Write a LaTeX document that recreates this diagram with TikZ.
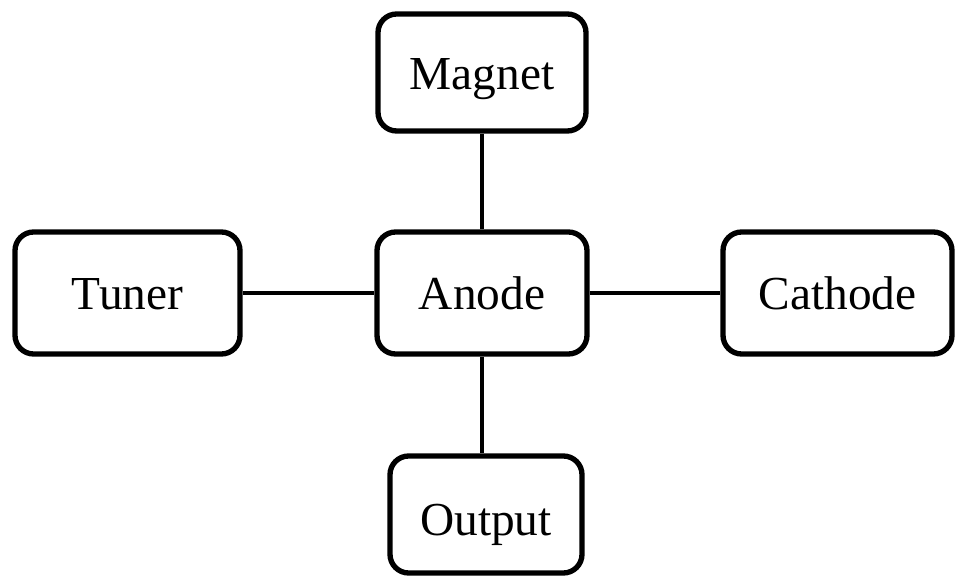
\documentclass[tikz,border=0pt]{standalone}
\usepackage{fontspec}
\setmainfont{Liberation Serif}
\begin{document}
\begin{tikzpicture}[x=0.75pt,y=-0.75pt,
  block/.style={draw=black, line width=4pt, rounded corners=14pt, fill=white,
    inner sep=0pt, font=\fontsize{35.5}{40}\selectfont,
    text height=25.5pt, text depth=0pt},
  link/.style={draw=black, line width=3.6pt}]
  \useasboundingbox (0,0) rectangle (958,577);

  % boxes
  \node[block, minimum width=156pt,   minimum height=87.75pt] (magnet)  at (482,72.5)  {Magnet};
  \node[block, minimum width=157.5pt, minimum height=91.5pt]  (anode)   at (482,293)   {Anode};
  \node[block, minimum width=168.75pt,minimum height=91.5pt]  (tuner)   at (127.5,293) {Tuner};
  \node[block, minimum width=171.75pt,minimum height=91.5pt]  (cathode) at (837.5,293) {Cathode};
  \node[block, minimum width=144pt,   minimum height=87.75pt, text height=31.5pt] (output) at (486,514.5) {Output};

  % connectors
  \draw[link] (magnet.south) -- (anode.north);
  \draw[link] (tuner.east) -- (anode.west);
  \draw[link] (anode.east) -- (cathode.west);
  \draw[link] (anode.south) -- (anode.south |- output.north);
\end{tikzpicture}
\end{document}
